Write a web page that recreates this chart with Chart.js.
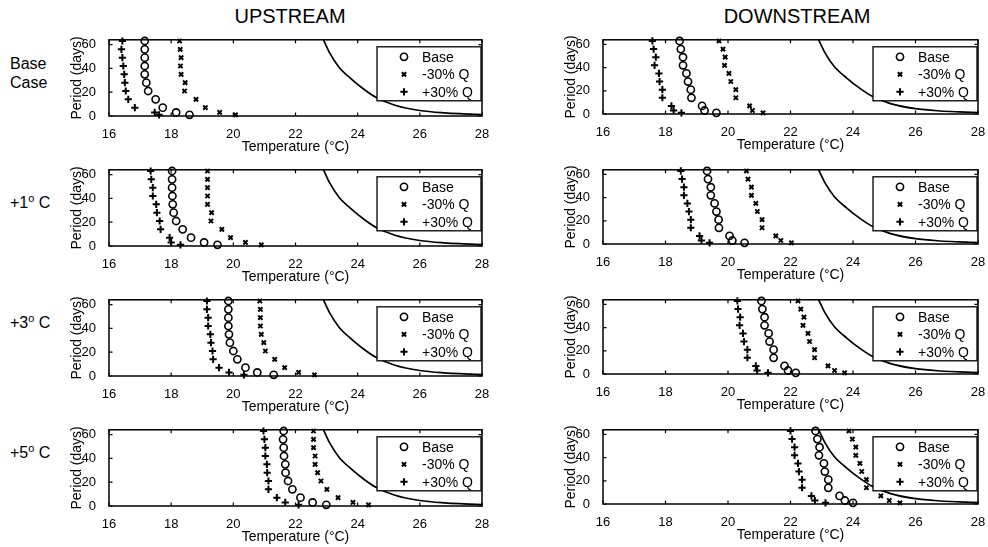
<!DOCTYPE html>
<html>
<head>
<meta charset="utf-8">
<script src="https://cdn.jsdelivr.net/npm/chart.js@4.4.0/dist/chart.umd.min.js"></script>
<style>
  body { margin: 0; background: #fff; }
  #page { position: relative; width: 988px; height: 547px; font-family: 'Liberation Sans', Arial, sans-serif; color: #000; }
  .panel { position: absolute; }
  .colTitle { position: absolute; top: 5px; font-size: 20px; transform: translateX(-50%); white-space: nowrap; }
  .rowLabel { position: absolute; left: 10px; font-size: 16px; line-height: 19px; }
  .rowLabel sup { font-size: 11px; }
</style>
</head>
<body>
<div id="page">
  <div class="colTitle" style="left:290px">UPSTREAM</div>
  <div class="colTitle" style="left:797px">DOWNSTREAM</div>
  <div class="rowLabel" style="top:54px">Base<br>Case</div>
  <div class="rowLabel" style="top:189px">+1<sup>o</sup> C</div>
  <div class="rowLabel" style="top:309px">+3<sup>o</sup> C</div>
  <div class="rowLabel" style="top:439px">+5<sup>o</sup> C</div>
</div>
<script>
// period (days) of every marker, same in all panels
const periods = [63, 56, 49, 42, 35, 28, 21, 14, 7, 3, 1];
const seriesNames = ['Base', '-30% Q', '+30% Q'];
const xTicks = [16, 18, 20, 22, 24, 26, 28];
const yTicks = [0, 20, 40, 60];

// threshold curve (same in every panel)
const curveTemp   = [22.9, 23.1, 23.4, 23.8, 24.2, 24.6, 25.2, 26.0, 26.8, 27.4, 28.0];
const curvePeriod = [64,   53,   41,   31,   22.5, 15.5, 9,    4.6,  2.6,  1.8,  1.2];

// upstream, base case
const up0Base  = [17.15, 17.15, 17.15, 17.15, 17.15, 17.20, 17.26, 17.50, 17.73, 18.16, 18.59];
const up0Minus = [18.27, 18.29, 18.32, 18.30, 18.32, 18.45, 18.43, 18.80, 19.10, 19.56, 20.07];
const up0Plus  = [16.43, 16.40, 16.43, 16.46, 16.49, 16.51, 16.54, 16.62, 16.83, 17.47, 17.61];
// downstream, base case
const dn0Base  = [18.45, 18.49, 18.56, 18.56, 18.67, 18.72, 18.81, 18.83, 19.17, 19.25, 19.63];
const dn0Minus = [19.71, 19.84, 19.91, 19.89, 20.03, 20.09, 20.25, 20.25, 20.69, 20.78, 21.12];
const dn0Plus  = [17.58, 17.62, 17.69, 17.65, 17.79, 17.81, 17.90, 17.90, 18.19, 18.26, 18.51];
// +1 C
const up1Base  = [18.03, 18.03, 18.03, 18.04, 18.05, 18.08, 18.16, 18.37, 18.64, 19.06, 19.49];
const up1Minus = [19.17, 19.17, 19.17, 19.17, 19.17, 19.30, 19.28, 19.63, 19.91, 20.39, 20.90];
const up1Plus  = [17.34, 17.36, 17.41, 17.41, 17.52, 17.54, 17.63, 17.66, 17.95, 18.00, 18.30];
const dn1Base  = [19.33, 19.36, 19.45, 19.45, 19.57, 19.63, 19.70, 19.71, 20.05, 20.14, 20.53];
const dn1Minus = [20.59, 20.64, 20.75, 20.75, 20.89, 20.94, 21.09, 21.09, 21.53, 21.69, 22.03];
const dn1Plus  = [18.49, 18.53, 18.59, 18.59, 18.70, 18.75, 18.81, 18.81, 19.09, 19.15, 19.41];
// +3 C
const up3Base  = [19.84, 19.84, 19.84, 19.84, 19.86, 19.89, 20.00, 20.13, 20.39, 20.77, 21.30];
const up3Minus = [20.85, 20.87, 20.87, 20.87, 20.90, 20.98, 21.03, 21.33, 21.65, 22.10, 22.61];
const up3Plus  = [19.15, 19.15, 19.19, 19.19, 19.26, 19.28, 19.33, 19.35, 19.54, 19.86, 20.34];
const dn3Base  = [21.07, 21.10, 21.17, 21.17, 21.30, 21.33, 21.46, 21.46, 21.81, 21.92, 22.17];
const dn3Minus = [22.24, 22.33, 22.43, 22.40, 22.56, 22.61, 22.77, 22.77, 23.20, 23.41, 23.73];
const dn3Plus  = [20.30, 20.32, 20.39, 20.37, 20.48, 20.51, 20.62, 20.62, 20.89, 20.93, 21.28];
// +5 C
const up5Base  = [21.62, 21.60, 21.62, 21.63, 21.67, 21.68, 21.76, 21.90, 22.16, 22.55, 22.99];
const up5Minus = [22.58, 22.58, 22.58, 22.63, 22.63, 22.71, 22.82, 23.01, 23.37, 23.85, 24.35];
const up5Plus  = [20.97, 21.00, 21.03, 21.03, 21.08, 21.09, 21.13, 21.13, 21.40, 21.67, 22.10];
const dn5Base  = [22.80, 22.86, 22.93, 22.91, 23.07, 23.10, 23.21, 23.21, 23.57, 23.74, 24.00];
const dn5Minus = [23.87, 23.98, 24.09, 24.09, 24.22, 24.28, 24.43, 24.43, 24.89, 25.16, 25.50];
const dn5Plus  = [22.00, 22.05, 22.13, 22.13, 22.24, 22.27, 22.37, 22.37, 22.67, 22.78, 23.12];

const FONT = "'Liberation Sans', Arial, sans-serif";
const markerStyles = [
  { pointStyle: 'circle',   radius: 3.6, borderWidth: 1.6 },
  { pointStyle: 'crossRot', radius: 3.0, borderWidth: 2 },
  { pointStyle: 'cross',    radius: 3.6, borderWidth: 2 }
];

const toPoints = temps => temps.map((t, i) => ({ x: t, y: periods[i] }));

// box with inward ticks, like the original axes
const framePlugin = {
  id: 'frame',
  afterDatasetsDraw(chart) {
    const { ctx, chartArea: a, scales: { x, y } } = chart;
    ctx.save();
    ctx.strokeStyle = '#000';
    ctx.lineWidth = 1.5;
    ctx.strokeRect(a.left, a.top, a.right - a.left, a.bottom - a.top);
    ctx.lineWidth = 1.2;
    ctx.beginPath();
    x.ticks.forEach(t => {
      const px = x.getPixelForValue(t.value);
      ctx.moveTo(px, a.bottom); ctx.lineTo(px, a.bottom - 3.5);
      ctx.moveTo(px, a.top); ctx.lineTo(px, a.top + 3.5);
    });
    y.ticks.forEach(t => {
      const py = y.getPixelForValue(t.value);
      ctx.moveTo(a.left, py); ctx.lineTo(a.left + 3.5, py);
      ctx.moveTo(a.right, py); ctx.lineTo(a.right - 3.5, py);
    });
    ctx.stroke();
    ctx.restore();
  }
};

const legendPlugin = {
  id: 'boxLegend',
  afterDraw(chart) {
    const { ctx, chartArea: a } = chart;
    const w = 104, h = 54;
    const left = a.right - w - 1, top = a.top + 7;
    ctx.save();
    ctx.fillStyle = '#fff';
    ctx.fillRect(left, top, w, h);
    ctx.strokeStyle = '#000';
    ctx.lineWidth = 1.3;
    ctx.strokeRect(left, top, w, h);
    ctx.font = '14px ' + FONT;
    ctx.textBaseline = 'middle';
    seriesNames.forEach((name, i) => {
      const yy = top + 10 + i * 17.5;
      const m = markerStyles[i];
      ctx.strokeStyle = '#000';
      ctx.fillStyle = 'rgba(0,0,0,0)';
      ctx.lineWidth = m.borderWidth;
      Chart.helpers.drawPoint(ctx, { pointStyle: m.pointStyle, radius: m.radius, borderWidth: m.borderWidth, rotation: 0 }, left + 27, yy);
      ctx.fillStyle = '#000';
      ctx.fillText(name, left + 45, yy + 1);
    });
    ctx.restore();
  }
};

const yTitlePlugin = {
  id: 'yTitle',
  afterDraw(chart) {
    const { ctx, chartArea: a } = chart;
    ctx.save();
    ctx.translate(a.left - 32, (a.top + a.bottom) / 2);
    ctx.rotate(-Math.PI / 2);
    ctx.font = '14px ' + FONT;
    ctx.fillStyle = '#000';
    ctx.textAlign = 'center';
    ctx.textBaseline = 'middle';
    ctx.fillText('Period (days)', 0, 0);
    ctx.restore();
  }
};

function makePanel(col, row, base, minus, plus) {
  const L = col === 0 ? 109 : 603;
  const R = col === 0 ? 482 : 978;
  const T = 37 + row * 130;
  const B = T + (col === 0 ? 79 : 77);
  const padL = 44, padT = 10, padR = 12, padB = 42;

  const canvas = document.createElement('canvas');
  canvas.className = 'panel';
  canvas.width = R - L + padL + padR;
  canvas.height = B - T + padT + padB;
  canvas.style.left = (L - padL) + 'px';
  canvas.style.top = (T - padT) + 'px';
  document.getElementById('page').appendChild(canvas);

  const curve = curveTemp.map((t, i) => ({ x: t, y: curvePeriod[i] }));
  const sets = [base, minus, plus].map((temps, i) => ({
    label: seriesNames[i],
    data: toPoints(temps),
    pointStyle: markerStyles[i].pointStyle,
    pointRadius: markerStyles[i].radius,
    pointBorderWidth: markerStyles[i].borderWidth,
    borderColor: '#000',
    backgroundColor: 'rgba(0,0,0,0)',
    clip: false
  }));

  return new Chart(canvas, {
    type: 'scatter',
    data: {
      datasets: [{
        type: 'line',
        label: 'threshold',
        data: curve,
        borderColor: '#000',
        borderWidth: 1.7,
        pointRadius: 0,
        cubicInterpolationMode: 'monotone',
        fill: false
      }, ...sets]
    },
    options: {
      responsive: false,
      animation: false,
      events: [],
      layout: { padding: { left: 0, top: padT, right: padR, bottom: 0 } },
      plugins: { legend: { display: false }, tooltip: { enabled: false } },
      scales: {
        x: {
          type: 'linear', min: 16, max: 28,
          afterBuildTicks: s => { s.ticks = xTicks.map(v => ({ value: v })); },
          ticks: { color: '#000', padding: 3, maxRotation: 0, font: { size: 13, family: FONT } },
          grid: { display: false },
          border: { display: false },
          title: { display: true, text: 'Temperature (°C)', color: '#000', font: { size: 14, family: FONT }, padding: { top: 0, bottom: 2 } },
          afterFit: s => { s.height = padB; }
        },
        y: {
          type: 'linear', min: 0, max: 64,
          afterBuildTicks: s => { s.ticks = yTicks.map(v => ({ value: v })); },
          ticks: { color: '#000', padding: 5, font: { size: 13, family: FONT } },
          grid: { display: false },
          border: { display: false },
          afterFit: s => { s.width = padL; }
        }
      }
    },
    plugins: [framePlugin, legendPlugin, yTitlePlugin]
  });
}

makePanel(0, 0, up0Base, up0Minus, up0Plus);
makePanel(1, 0, dn0Base, dn0Minus, dn0Plus);
makePanel(0, 1, up1Base, up1Minus, up1Plus);
makePanel(1, 1, dn1Base, dn1Minus, dn1Plus);
makePanel(0, 2, up3Base, up3Minus, up3Plus);
makePanel(1, 2, dn3Base, dn3Minus, dn3Plus);
makePanel(0, 3, up5Base, up5Minus, up5Plus);
makePanel(1, 3, dn5Base, dn5Minus, dn5Plus);
</script>
</body>
</html>
